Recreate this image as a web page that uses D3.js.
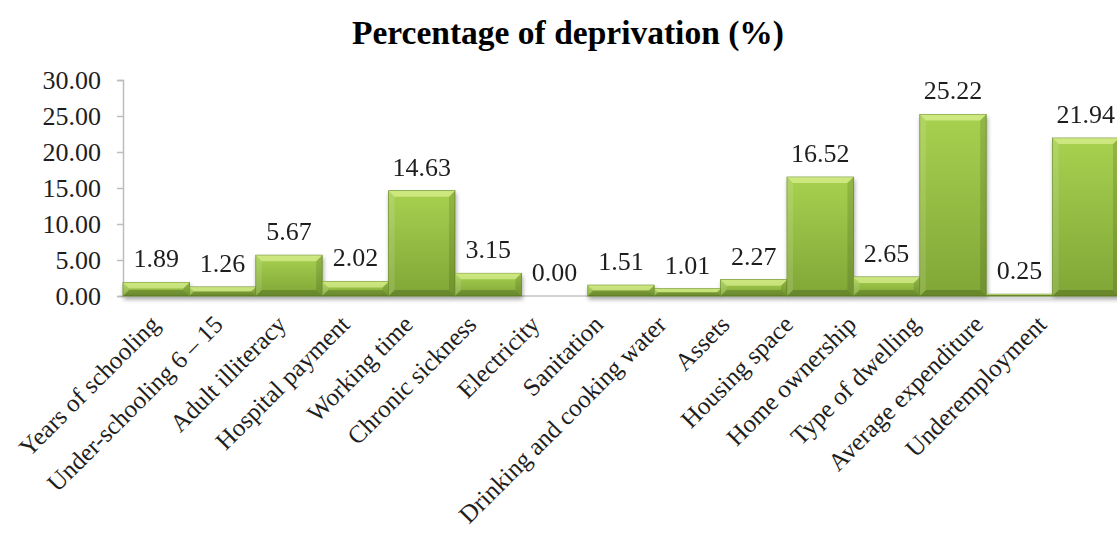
<!DOCTYPE html>
<html>
<head>
<meta charset="utf-8">
<script src="https://cdn.jsdelivr.net/npm/d3@7"></script>
<style>
  body { margin: 0; background: #fff; }
  svg text { font-family: "Liberation Serif", "Times New Roman", serif; }
</style>
</head>
<body>
<div id="container"></div>
<script>
const categories = [
   'Years of schooling', 'Under-schooling 6 – 15', 'Adult illiteracy', 'Hospital payment',
   'Working time', 'Chronic sickness', 'Electricity', 'Sanitation',
   'Drinking and cooking water', 'Assets', 'Housing space', 'Home ownership',
   'Type of dwelling', 'Average expenditure', 'Underemployment'
];
const values = [1.89, 1.26, 5.67, 2.02, 14.63, 3.15, 0.00, 1.51, 1.01, 2.27, 16.52, 2.65, 25.22, 0.25, 21.94];
const yTicks = [0, 5, 10, 15, 20, 25, 30];
const title = 'Percentage of deprivation (%)';

const w = 1117;
const h = 537;

const svg = d3.select('#container')
   .append('svg')
   .attr('width', w)
   .attr('height', h);

const defs = svg.append('defs');
const grad = defs.append('linearGradient')
   .attr('id', 'barGrad')
   .attr('x1', 0).attr('y1', 0).attr('x2', 0).attr('y2', 1);
grad.append('stop').attr('offset', '0%').attr('stop-color', '#a8d150');
grad.append('stop').attr('offset', '100%').attr('stop-color', '#80a636');

const shadow = defs.append('filter')
   .attr('id', 'shadow')
   .attr('x', '-10%').attr('y', '-10%').attr('width', '130%').attr('height', '130%');
shadow.append('feDropShadow')
   .attr('dx', 1).attr('dy', 3).attr('stdDeviation', 2)
   .attr('flood-color', '#000').attr('flood-opacity', 0.35);

const x = d3.scaleBand()
   .domain(categories)
   .range([123, 123 + 15 * 66.4])
   .padding(0);

// category labels sit on a slightly tighter spacing than the bars
const xl = d3.scalePoint()
   .domain(categories)
   .range([161, 1048]);

const y = d3.scaleLinear()
   .domain([0, 30])
   .range([296, 80]);

// title
svg.append('text')
   .attr('x', 568)
   .attr('y', 44)
   .attr('text-anchor', 'middle')
   .attr('font-size', 33.5)
   .attr('font-weight', 'bold')
   .attr('fill', '#000')
   .text(title);

// baseline
svg.append('line')
   .attr('x1', 123).attr('x2', w)
   .attr('y1', y(0)).attr('y2', y(0))
   .attr('stroke', '#c4c4c4')
   .attr('stroke-width', 1.5);

// y axis
const yAxis = d3.axisLeft(y)
   .tickValues(yTicks)
   .tickFormat(d3.format('.2f'))
   .tickSize(6)
   .tickPadding(16);

const gy = svg.append('g')
   .attr('transform', 'translate(123,0)')
   .call(yAxis);
gy.select('.domain').attr('stroke', '#bdbdbd').attr('stroke-width', 1.5);
gy.selectAll('.tick line').attr('stroke', '#bdbdbd').attr('stroke-width', 1.5);
gy.selectAll('.tick text')
   .attr('font-size', 26)
   .attr('fill', '#1e1e1e')
   .attr('dy', '0.34em')
   .style('font-family', '"Liberation Serif", "Times New Roman", serif');

// bars with bevel
const bars = svg.append('g')
   .attr('filter', 'url(#shadow)')
   .selectAll('g')
   .data(categories.map((c, i) => ({ c: c, v: values[i] })))
   .enter()
   .append('g')
   .filter(d => d.v > 0);

bars.append('rect')
   .attr('x', d => x(d.c))
   .attr('y', d => y(d.v))
   .attr('width', x.bandwidth())
   .attr('height', d => y(0) - y(d.v))
   .attr('fill', 'url(#barGrad)')
   .attr('stroke', '#6b8f27')
   .attr('stroke-width', 0.8);

function bevel(d, side) {
   const x0 = x(d.c), x1 = x0 + x.bandwidth();
   const y0 = y(d.v), y1 = y(0);
   const b = Math.min(6, (y1 - y0) / 2);
   let pts;
   if (side === 'top') pts = [[x0, y0], [x1, y0], [x1 - b, y0 + b], [x0 + b, y0 + b]];
   if (side === 'left') pts = [[x0, y0], [x0 + b, y0 + b], [x0 + b, y1 - b], [x0, y1]];
   if (side === 'right') pts = [[x1, y0], [x1 - b, y0 + b], [x1 - b, y1 - b], [x1, y1]];
   if (side === 'bottom') pts = [[x0, y1], [x0 + b, y1 - b], [x1 - b, y1 - b], [x1, y1]];
   return pts.map(p => p.join(',')).join(' ');
}

bars.append('polygon').attr('points', d => bevel(d, 'top')).attr('fill', '#f4ffb0').attr('opacity', 0.5);
bars.append('polygon').attr('points', d => bevel(d, 'left')).attr('fill', '#ffffff').attr('opacity', 0.12);
bars.append('polygon').attr('points', d => bevel(d, 'right')).attr('fill', '#000').attr('opacity', 0.12);
bars.append('polygon').attr('points', d => bevel(d, 'bottom')).attr('fill', '#000').attr('opacity', 0.18);

// value labels
svg.append('g')
   .selectAll('text')
   .data(categories.map((c, i) => ({ c: c, v: values[i] })))
   .enter()
   .append('text')
   .attr('x', d => x(d.c) + x.bandwidth() / 2)
   .attr('y', d => y(d.v) - 15)
   .attr('text-anchor', 'middle')
   .attr('font-size', 26)
   .attr('fill', '#1e1e1e')
   .text(d => d3.format('.2f')(d.v));

// category labels
svg.append('g')
   .selectAll('text')
   .data(categories)
   .enter()
   .append('text')
   .attr('transform', d => 'translate(' + xl(d) + ',326) rotate(-45)')
   .attr('text-anchor', 'end')
   .attr('font-size', 25)
   .attr('fill', '#1e1e1e')
   .text(d => d);
</script>
</body>
</html>
